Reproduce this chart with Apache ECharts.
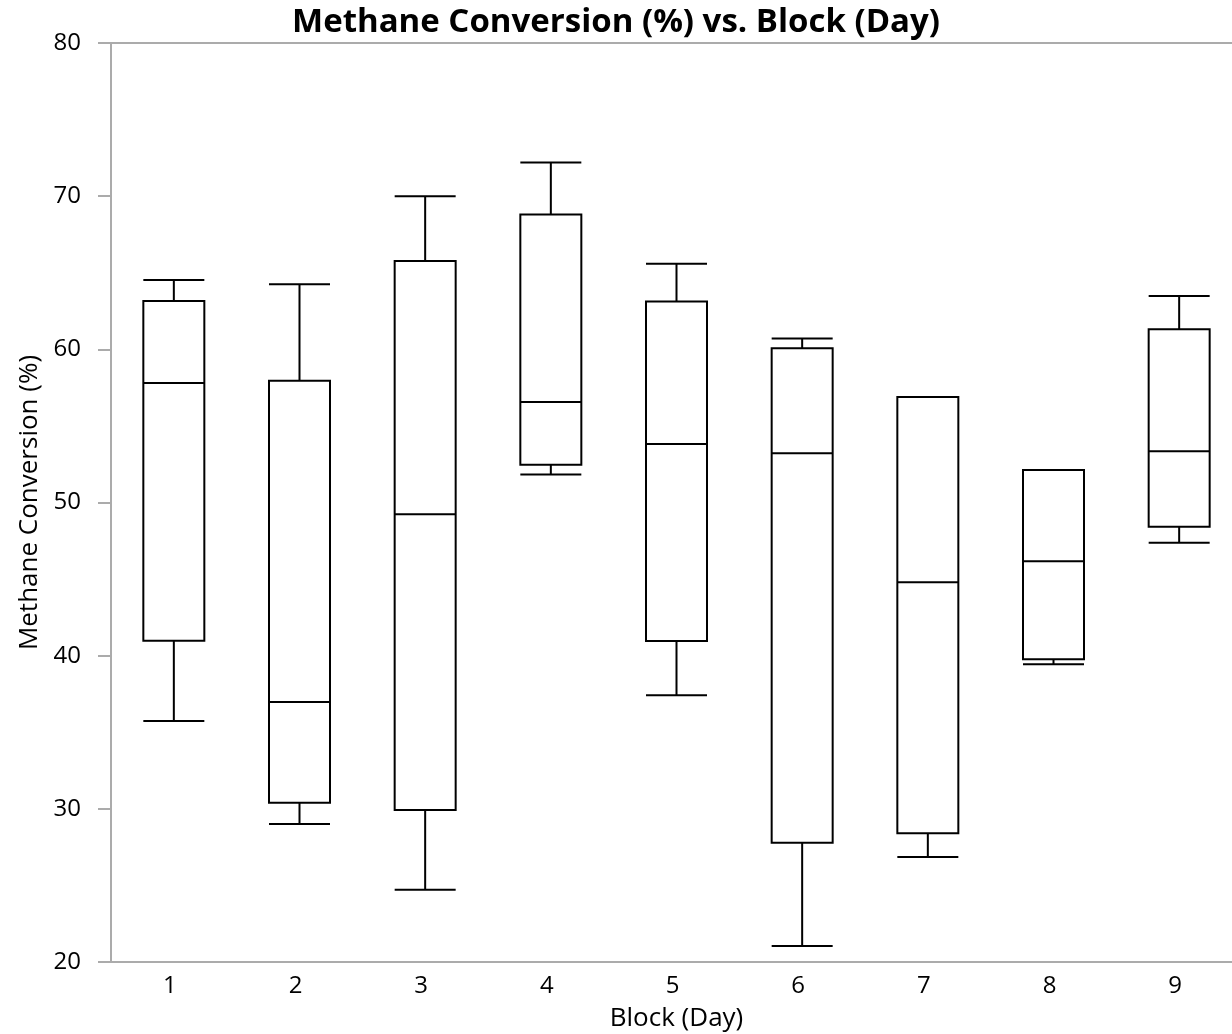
<!DOCTYPE html>
<html>
<head>
<meta charset="utf-8">
<title>Methane Conversion (%) vs. Block (Day)</title>
<script src="https://cdn.jsdelivr.net/npm/echarts@6/dist/echarts.min.js"></script>
<style>
  html, body { margin: 0; padding: 0; background: #fff; }
  #chart { width: 1232px; height: 1034px; }
</style>
</head>
<body>
<div id="chart"></div>
<script>
// Blocks (days) on the x axis
const blocks = ['1', '2', '3', '4', '5', '6', '7', '8', '9'];

// Five-number summary per block, methane conversion in %
const whiskerLow  = [35.74, 29.01, 24.72, 51.82, 37.41, 21.05, 26.86, 39.44, 47.38];
const quartile1   = [40.98, 30.40, 29.93, 52.47, 40.96, 27.79, 28.40, 39.76, 48.42];
const medians     = [57.80, 36.98, 49.23, 56.56, 53.82, 53.21, 44.79, 46.16, 53.34];
const quartile3   = [63.16, 57.95, 65.77, 68.81, 63.13, 60.07, 56.89, 52.12, 61.31];
const whiskerHigh = [64.53, 64.25, 70.00, 72.19, 65.59, 60.70, 56.89, 52.12, 63.48];

// Y axis ticks
const yTicks = [20, 30, 40, 50, 60, 70, 80];

const boxData = blocks.map((_, i) => [
  whiskerLow[i], quartile1[i], medians[i], quartile3[i], whiskerHigh[i]
]);

const FONT = '"Open Sans", "Noto Sans", sans-serif';
const AXIS_GRAY = '#ababab';

const chart = echarts.init(document.getElementById('chart'), null, { renderer: 'canvas' });

chart.setOption({
  animation: false,
  backgroundColor: '#ffffff',
  title: {
    text: 'Methane Conversion (%) vs. Block (Day)',
    left: 'center',
    top: 1,
    textStyle: { fontFamily: FONT, fontSize: 33, fontWeight: 'bold', color: '#000' }
  },
  // the plot frame runs a little past the right edge of the canvas
  grid: {
    left: 111,
    width: 1131,
    top: 43,
    bottom: 72,
    outerBoundsMode: 'none',
    containLabel: false,
    show: true,
    borderColor: AXIS_GRAY,
    borderWidth: 2,
    backgroundColor: 'transparent'
  },
  xAxis: {
    type: 'category',
    data: blocks,
    boundaryGap: true,
    name: 'Block (Day)',
    nameLocation: 'middle',
    nameGap: 44,
    nameTextStyle: { fontFamily: FONT, fontSize: 26, color: '#000' },
    axisLine: { show: true, lineStyle: { color: AXIS_GRAY, width: 2 } },
    axisTick: { show: false },
    axisLabel: { fontFamily: FONT, fontSize: 24, color: '#000', margin: 12, padding: [0, 8, 0, 0] },
    splitLine: { show: false }
  },
  yAxis: {
    type: 'value',
    min: yTicks[0],
    max: yTicks[yTicks.length - 1],
    interval: 10,
    name: 'Methane Conversion (%)',
    nameLocation: 'middle',
    nameGap: 66,
    nameTextStyle: { fontFamily: FONT, fontSize: 26, color: '#000' },
    axisLine: { show: true, lineStyle: { color: AXIS_GRAY, width: 2 } },
    axisTick: { show: true, inside: false, length: 13, lineStyle: { color: AXIS_GRAY, width: 2 } },
    axisLabel: { fontFamily: FONT, fontSize: 24, color: '#000', margin: 30 },
    splitLine: { show: false }
  },
  series: [{
    type: 'boxplot',
    data: boxData,
    boxWidth: [61, 61],
    itemStyle: { color: '#ffffff', borderColor: '#000000', borderWidth: 2 },
    emphasis: { disabled: true }
  }]
});
</script>
</body>
</html>
